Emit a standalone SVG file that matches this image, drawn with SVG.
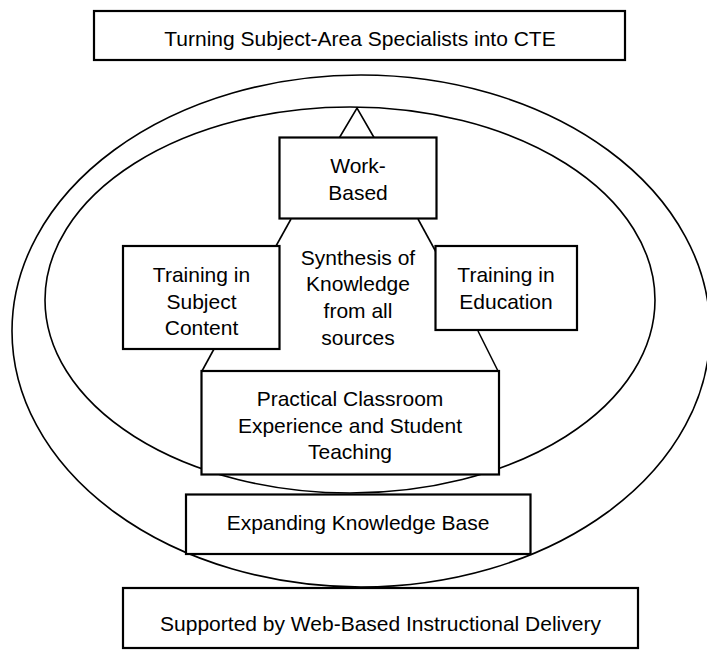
<svg xmlns="http://www.w3.org/2000/svg" width="707" height="650" viewBox="0 0 707 650">
  <style>
    .box { fill: #ffffff; stroke: #000000; stroke-width: 2.2; }
    .ring { fill: none; stroke: #000000; stroke-width: 1.6; }
    .link { fill: none; stroke: #000000; stroke-width: 1.6; }
    text { font-family: "Liberation Sans", Arial, sans-serif; font-size: 21px; fill: #000000; text-anchor: middle; }
  </style>
  <rect width="707" height="650" fill="#ffffff"/>

  <!-- concentric rings -->
  <g id="rings">
    <ellipse class="ring" cx="361" cy="331" rx="349" ry="256"/>
    <ellipse class="ring" cx="350" cy="300" rx="305" ry="193"/>
  </g>

  <!-- connectors between the four central boxes and the apex -->
  <g id="connectors">
    <polyline class="link" points="339.5,137.5 357,108 374,137.5"/>
    <line class="link" x1="291" y1="219" x2="276" y2="246"/>
    <line class="link" x1="418" y1="219" x2="436" y2="252"/>
    <line class="link" x1="214" y1="349" x2="202" y2="371"/>
    <line class="link" x1="478" y1="331" x2="498" y2="371"/>
  </g>

  <g id="title">
    <rect class="box" x="94" y="11" width="531" height="49"/>
    <text x="360" y="46">Turning Subject-Area Specialists into CTE</text>
  </g>

  <g id="work-based">
    <rect class="box" x="279.5" y="137.5" width="157" height="81"/>
    <text x="358" y="173">Work-</text>
    <text x="358" y="200">Based</text>
  </g>

  <g id="subject-content">
    <rect class="box" x="123" y="246" width="156.5" height="103"/>
    <text x="201.5" y="282">Training in</text>
    <text x="201.5" y="308.5">Subject</text>
    <text x="201.5" y="335">Content</text>
  </g>

  <g id="synthesis">
    <text x="358" y="264.5">Synthesis of</text>
    <text x="358" y="291">Knowledge</text>
    <text x="358" y="317.5">from all</text>
    <text x="358" y="344.5">sources</text>
  </g>

  <g id="education">
    <rect class="box" x="435.5" y="246" width="141.5" height="84"/>
    <text x="506" y="282">Training in</text>
    <text x="506" y="308.5">Education</text>
  </g>

  <g id="practical">
    <rect class="box" x="201.5" y="371" width="297.5" height="103.5"/>
    <text x="350" y="406">Practical Classroom</text>
    <text x="350" y="432.5">Experience and Student</text>
    <text x="350" y="459">Teaching</text>
  </g>

  <g id="knowledge-base">
    <rect class="box" x="186" y="494.5" width="344.5" height="59.5"/>
    <text x="358" y="530">Expanding Knowledge Base</text>
  </g>

  <g id="web-delivery">
    <rect class="box" x="123" y="588" width="515" height="60"/>
    <text x="380.5" y="630.5">Supported by Web-Based Instructional Delivery</text>
  </g>
</svg>
